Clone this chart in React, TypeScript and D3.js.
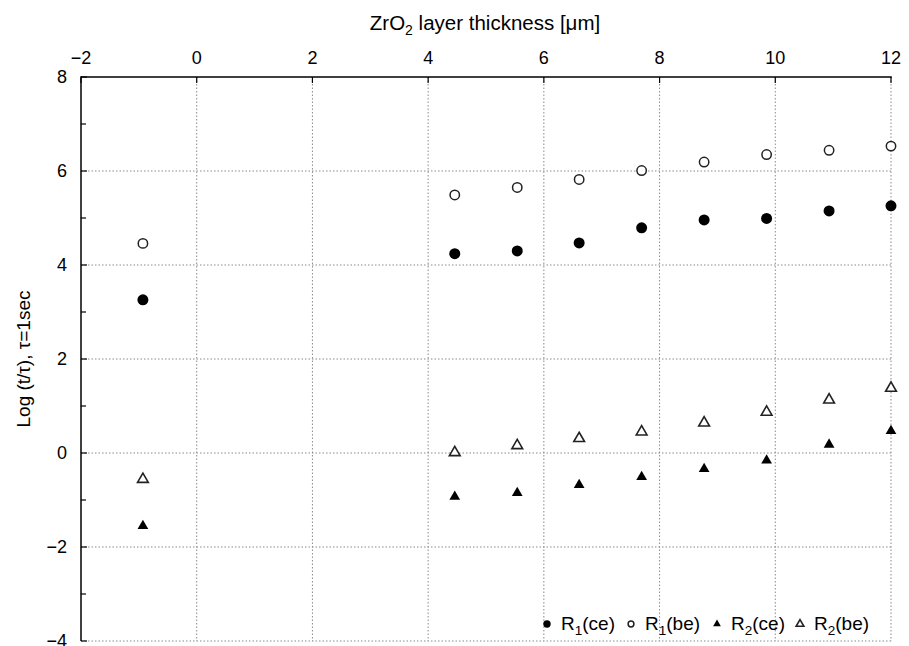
import React from "react";
import * as d3 from "d3";

// thickness positions (um) shared by all four series
const thickness = [-0.93, 4.46, 5.54, 6.61, 7.69, 8.77, 9.85, 10.93, 12.0];

// Log (t/tau) values
const r1ce = [3.26, 4.24, 4.3, 4.47, 4.79, 4.96, 4.99, 5.15, 5.26];
const r1be = [4.46, 5.49, 5.65, 5.82, 6.01, 6.19, 6.35, 6.44, 6.53];
const r2ce = [-1.55, -0.93, -0.85, -0.68, -0.51, -0.34, -0.16, 0.18, 0.47];
const r2be = [-0.56, 0.01, 0.16, 0.31, 0.45, 0.64, 0.87, 1.13, 1.38];

const xTicks = [-2, 0, 2, 4, 6, 8, 10, 12];
const yTicks = [-4, -2, 0, 2, 4, 6, 8];
const yMinor = [-3, -1, 1, 3, 5, 7];

const W = 909, H = 646;
const margin = { top: 77, right: 18, bottom: 5, left: 81 };
const FONT = "'Liberation Sans', Arial, Helvetica, sans-serif";

const x = d3.scaleLinear().domain([-2, 12]).range([margin.left, W - margin.right]);
const y = d3.scaleLinear().domain([-4, 8]).range([H - margin.bottom, margin.top]);

const tri = d3.symbol().type(d3.symbolTriangle).size(50)() as string;
const triSmall = d3.symbol().type(d3.symbolTriangle).size(26)() as string;

function Marker({ kind, cx, cy, small }: { kind: string; cx: number; cy: number; small?: boolean }) {
  const r = small ? 3.2 : 5;
  if (kind === "fc") return <circle cx={cx} cy={cy} r={r + 0.5} fill="#000" />;
  if (kind === "oc")
    return <circle cx={cx} cy={cy} r={r - 0.3} fill="#fff" stroke="#222" strokeWidth={1.5} />;
  if (kind === "ft")
    return <path d={small ? triSmall : tri} transform={`translate(${cx},${cy})`} fill="#000" />;
  return (
    <path
      d={small ? triSmall : tri}
      transform={`translate(${cx},${cy})`}
      fill="#fff"
      stroke="#222"
      strokeWidth={1.6}
    />
  );
}

const series = [
  { key: "fc", values: r1ce, label: "1", tail: "(ce)" },
  { key: "oc", values: r1be, label: "1", tail: "(be)" },
  { key: "ft", values: r2ce, label: "2", tail: "(ce)" },
  { key: "ot", values: r2be, label: "2", tail: "(be)" },
];

export default function App() {
  const x0 = margin.left, x1 = W - margin.right;
  const y0 = margin.top, y1 = H - margin.bottom;
  const grid = "#8a8a8a";
  // legend layout, left to right
  const legendX = [547, 631, 717, 800];
  const legendY = 624;

  return (
    <svg width={W} height={H} style={{ position: "absolute", left: 0, top: 0, background: "#fff" }} fontFamily={FONT}>
      {/* grid */}
      {xTicks.filter((t) => t > -2).map((t) => (
        <line key={"gx" + t} x1={x(t)} x2={x(t)} y1={y0} y2={y1} stroke={grid} strokeWidth={1} strokeDasharray="1.5,2" />
      ))}
      {yTicks.filter((t) => t < 8).map((t) => (
        <line key={"gy" + t} x1={x0} x2={x1} y1={y(t)} y2={y(t)} stroke={grid} strokeWidth={1} strokeDasharray="1.5,2" />
      ))}

      {/* axes */}
      <line x1={x0} x2={x1 + 0.75} y1={y0} y2={y0} stroke="#000" strokeWidth={1.5} />
      <line x1={x0} x2={x0} y1={y0 - 0.75} y2={y1} stroke="#000" strokeWidth={1.5} />
      {xTicks.map((t) => (
        <g key={"xt" + t}>
          <line x1={x(t)} x2={x(t)} y1={y0} y2={y0 + 6} stroke="#000" strokeWidth={1.2} />
          <text x={x(t)} y={64} fontSize={18} textAnchor="middle">
            {t < 0 ? "\u2212" + Math.abs(t) : t}
          </text>
        </g>
      ))}
      {yTicks.map((t) => (
        <g key={"yt" + t}>
          <line x1={x0} x2={x0 + 6} y1={y(t)} y2={y(t)} stroke="#000" strokeWidth={1.2} />
          <text x={67} y={y(t)} dy="0.35em" fontSize={18} textAnchor="end">
            {t < 0 ? "\u2212" + Math.abs(t) : t}
          </text>
        </g>
      ))}
      {yMinor.map((t) => (
        <line key={"ym" + t} x1={x0} x2={x0 + 5} y1={y(t)} y2={y(t)} stroke="#000" strokeWidth={1.2} />
      ))}

      {/* titles */}
      <text x={(x0 + x1) / 2 - 1} y={30} fontSize={20.5} textAnchor="middle">
        ZrO<tspan fontSize={14} dy={5}>2</tspan>
        <tspan dy={-5}> layer thickness [μm]</tspan>
      </text>
      <text transform={`translate(30,${(y0 + y1) / 2}) rotate(-90)`} fontSize={19} textAnchor="middle">
        Log (t/τ), τ=1sec
      </text>

      {/* data */}
      {series.map((s) =>
        s.values.map((v, i) => <Marker key={s.key + i} kind={s.key} cx={x(thickness[i])} cy={y(v)} />)
      )}

      {/* legend */}
      {series.map((s, i) => (
        <g key={"lg" + s.key}>
          <Marker kind={s.key} cx={legendX[i]} cy={legendY} small />
          <text x={legendX[i] + 14} y={legendY + 6} fontSize={19}>
            R<tspan fontSize={13.5} dy={5}>{s.label}</tspan>
            <tspan dy={-5}>{s.tail}</tspan>
          </text>
        </g>
      ))}
    </svg>
  );
}
